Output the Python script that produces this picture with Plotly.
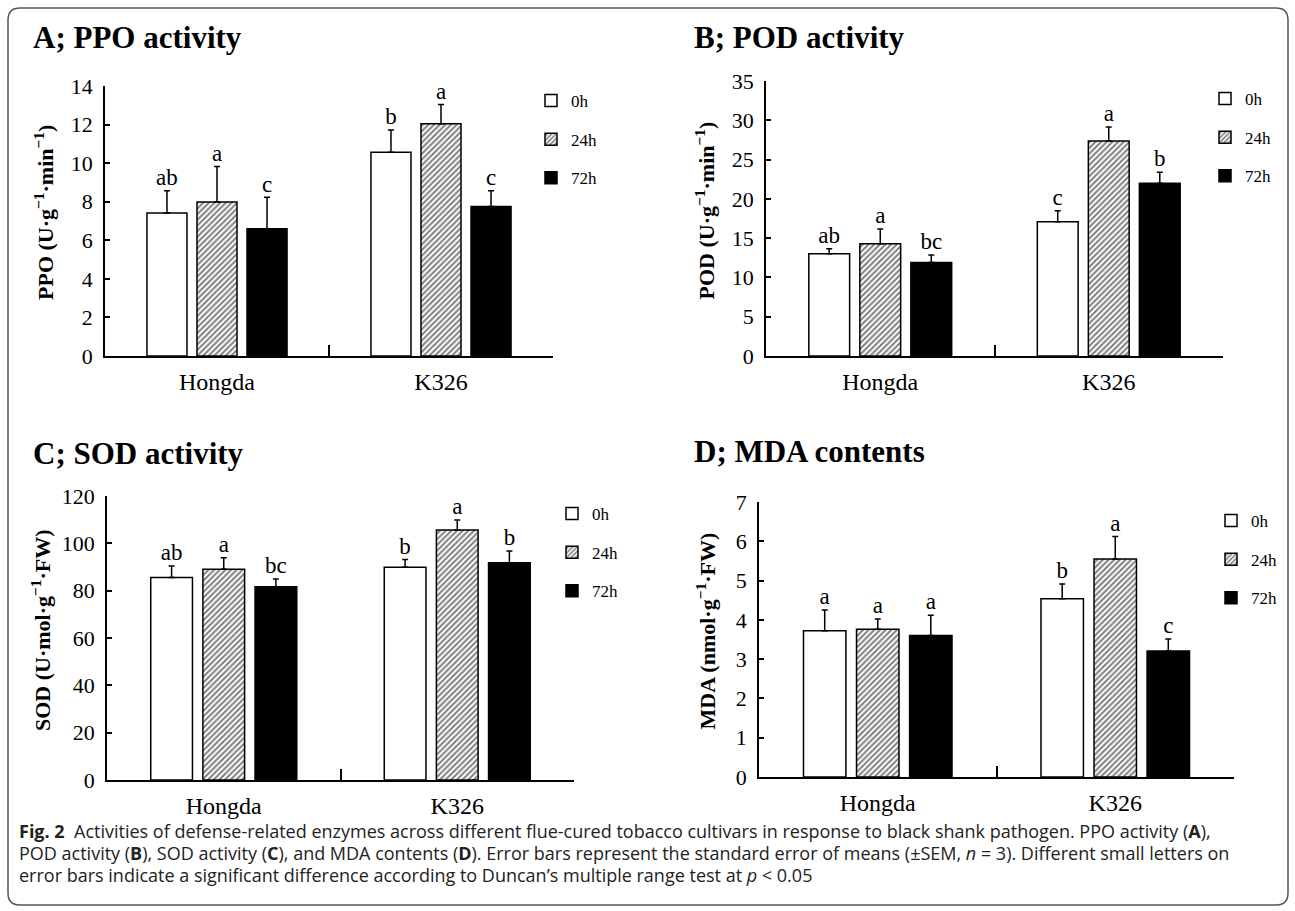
import plotly.graph_objects as go

W, H = 1295, 911

categories = ["Hongda", "K326"]
times = ["0h", "24h", "72h"]

# A; PPO activity
ppo_0h = [7.41, 10.57]
ppo_24h = [7.99, 12.04]
ppo_72h = [6.60, 7.75]
ppo_err_0h = [1.16, 1.15]
ppo_err_24h = [1.84, 1.00]
ppo_err_72h = [1.63, 0.82]
ppo_let_0h = ["ab", "b"]
ppo_let_24h = ["a", "a"]
ppo_let_72h = ["c", "c"]

# B; POD activity
pod_0h = [13.0, 17.1]
pod_24h = [14.3, 27.35]
pod_72h = [11.9, 22.0]
pod_err_0h = [0.65, 1.4]
pod_err_24h = [1.85, 1.8]
pod_err_72h = [0.95, 1.4]
pod_let_0h = ["ab", "c"]
pod_let_24h = ["a", "a"]
pod_let_72h = ["bc", "b"]

# C; SOD activity
sod_0h = [85.6, 89.9]
sod_24h = [89.0, 105.6]
sod_72h = [81.7, 91.8]
sod_err_0h = [4.8, 3.3]
sod_err_24h = [4.9, 4.3]
sod_err_72h = [3.2, 5.0]
sod_let_0h = ["ab", "b"]
sod_let_24h = ["a", "a"]
sod_let_72h = ["bc", "b"]

# D; MDA contents
mda_0h = [3.72, 4.54]
mda_24h = [3.76, 5.55]
mda_72h = [3.60, 3.21]
mda_err_0h = [0.53, 0.37]
mda_err_24h = [0.26, 0.57]
mda_err_72h = [0.52, 0.30]
mda_let_0h = ["a", "b"]
mda_let_24h = ["a", "a"]
mda_let_72h = ["a", "c"]

titles = ["A; PPO activity", "B; POD activity", "C; SOD activity", "D; MDA contents"]
ytitles = [
    "PPO (U·g<sup>−1</sup>·min<sup>−1</sup>)",
    "POD (U·g<sup>−1</sup>·min<sup>−1</sup>)",
    "SOD (U·mol·g<sup>−1</sup>·FW)",
    "MDA (nmol·g<sup>−1</sup>·FW)",
]
ymax = [14, 35, 120, 7]
ydtick = [2, 5, 20, 1]

panels = [
    ([ppo_0h, ppo_24h, ppo_72h], [ppo_err_0h, ppo_err_24h, ppo_err_72h], [ppo_let_0h, ppo_let_24h, ppo_let_72h]),
    ([pod_0h, pod_24h, pod_72h], [pod_err_0h, pod_err_24h, pod_err_72h], [pod_let_0h, pod_let_24h, pod_let_72h]),
    ([sod_0h, sod_24h, sod_72h], [sod_err_0h, sod_err_24h, sod_err_72h], [sod_let_0h, sod_let_24h, sod_let_72h]),
    ([mda_0h, mda_24h, mda_72h], [mda_err_0h, mda_err_24h, mda_err_72h], [mda_let_0h, mda_let_24h, mda_let_72h]),
]

# ---- layout geometry (pixels) ----
def PX(x):
    return x / W

def PY(y):
    return 1 - y / H

# (x_left, x_right, y_top, y_bottom) of plot areas in px
boxes = [
    (105, 553, 86, 356),
    (766, 1223, 81, 356),
    (107, 574, 496, 780),
    (759, 1234, 502, 777),
]
title_pos = [(31, 37), (692, 37), (31, 453), (692, 452)]
ytitle_x = [44, 705, 41, 705]
legend_pos = [(531, 83), (1205, 81), (552, 496), (1211, 503)]

SERIF = "Liberation Serif, Times New Roman, serif"

markers = [
    dict(color="white", line=dict(color="black", width=1.5)),
    dict(color="white", line=dict(color="black", width=1.5),
         pattern=dict(shape="/", fgcolor="#000", bgcolor="white", size=4, solidity=0.5)),
    dict(color="black", line=dict(color="black", width=1.5)),
]

fig = go.Figure()
layout = {}
annotations = []

for k, (vals, errs, lets) in enumerate(panels):
    n = k + 1
    xa = "x" if n == 1 else f"x{n}"
    ya = "y" if n == 1 else f"y{n}"
    lg = "legend" if n == 1 else f"legend{n}"
    for i, t in enumerate(times):
        fig.add_trace(go.Bar(
            x=categories, y=vals[i], name=t, xaxis=xa, yaxis=ya,
            marker=markers[i], legend=lg, legendgroup=f"{n}-{t}",
            error_y=dict(type="data", symmetric=False, array=errs[i],
                         arrayminus=[0] * len(categories),
                         color="black", thickness=1.5, width=3),
            hoverinfo="skip",
        ))
    for i, t in enumerate(times):
        fig.add_trace(go.Scatter(
            x=categories, y=[v + e for v, e in zip(vals[i], errs[i])],
            mode="text", text=lets[i], textposition="top center",
            textfont=dict(family=SERIF, size=23, color="black"),
            xaxis=xa, yaxis=ya, showlegend=False,
            offsetgroup=f"s{n}-{i}", alignmentgroup=f"s{n}",
            hoverinfo="skip",
        ))

    x0, x1, y0, y1 = boxes[k]
    layout[f"xaxis{'' if n == 1 else n}"] = dict(
        domain=[PX(x0), PX(x1)], anchor=ya, type="category",
        range=[-0.5, 1.5], showline=True, linecolor="black", linewidth=1.5,
        ticks="inside", tickson="boundaries", ticklen=11, tickwidth=1.5,
        tickcolor="black", showgrid=False, zeroline=False,
        tickfont=dict(family=SERIF, size=24, color="black"),
        ticklabelstandoff=3, fixedrange=True, automargin=False,
    )
    layout[f"yaxis{'' if n == 1 else n}"] = dict(
        domain=[PY(y1), PY(y0)], anchor=xa, range=[0, ymax[k]],
        dtick=ydtick[k], tick0=0, showline=True, linecolor="black",
        linewidth=1.5, ticks="inside", ticklen=5, tickwidth=1.5,
        tickcolor="black", showgrid=False, zeroline=False,
        tickfont=dict(family=SERIF, size=22, color="black"),
        ticklabelstandoff=6, fixedrange=True, automargin=False,
    )
    lx, ly = legend_pos[k]
    layout[lg] = dict(
        x=PX(lx), y=PY(ly), xanchor="left", yanchor="top",
        xref="paper", yref="paper",
        font=dict(family=SERIF, size=17, color="black"),
        bgcolor="rgba(0,0,0,0)", tracegroupgap=13.5, itemwidth=30,
        traceorder="grouped",
    )
    tx, ty = title_pos[k]
    annotations.append(dict(
        x=PX(tx), y=PY(ty), xref="paper", yref="paper", xanchor="left",
        yanchor="middle", showarrow=False, text=f"<b>{titles[k]}</b>",
        font=dict(family=SERIF, size=31, color="black"),
    ))
    annotations.append(dict(
        x=PX(ytitle_x[k]), y=PY((y0 + y1) / 2 - 8),
        xref="paper", yref="paper", xanchor="center", yanchor="middle",
        showarrow=False, textangle=-90, text=f"<b>{ytitles[k]}</b>",
        font=dict(family=SERIF, size=22, color="black"),
    ))

CAP = "Open Sans, Noto Sans, sans-serif"
caption_lines = [
    "<b>Fig. 2</b>  Activities of defense-related enzymes across different flue-cured tobacco cultivars in response to black shank pathogen. PPO activity (<b>A</b>),",
    "POD activity (<b>B</b>), SOD activity (<b>C</b>), and MDA contents (<b>D</b>). Error bars represent the standard error of means (±SEM, <i>n</i> = 3). Different small letters on",
    "error bars indicate a significant difference according to Duncan’s multiple range test at <i>p</i> &lt; 0.05",
]
for j, line in enumerate(caption_lines):
    annotations.append(dict(
        x=PX(17), y=PY(831 + 22 * j), xref="paper", yref="paper",
        xanchor="left", yanchor="middle", showarrow=False, text=line,
        font=dict(family=CAP, size=18, color="#222"),
    ))

# rounded frame
r = 12
L, T, R, B = 8, 8, 1288, 905
path = (f"M {PX(L + r)},{PY(T)} L {PX(R - r)},{PY(T)} Q {PX(R)},{PY(T)} {PX(R)},{PY(T + r)} "
        f"L {PX(R)},{PY(B - r)} Q {PX(R)},{PY(B)} {PX(R - r)},{PY(B)} "
        f"L {PX(L + r)},{PY(B)} Q {PX(L)},{PY(B)} {PX(L)},{PY(B - r)} "
        f"L {PX(L)},{PY(T + r)} Q {PX(L)},{PY(T)} {PX(L + r)},{PY(T)} Z")

fig.update_layout(
    **layout,
    width=W, height=H,
    margin=dict(l=0, r=0, t=0, b=0, pad=0, autoexpand=False),
    paper_bgcolor="white", plot_bgcolor="white",
    barmode="group", bargap=0.33, bargroupgap=0.2,
    scattermode="group", scattergap=0.33,
    annotations=annotations,
    shapes=[dict(type="path", path=path, xref="paper", yref="paper",
                 line=dict(color="#555", width=1.5), layer="below")],
    showlegend=True,
)

fig.write_html("out.html", config={"displayModeBar": False},
               post_script="document.body.style.margin='0';")
